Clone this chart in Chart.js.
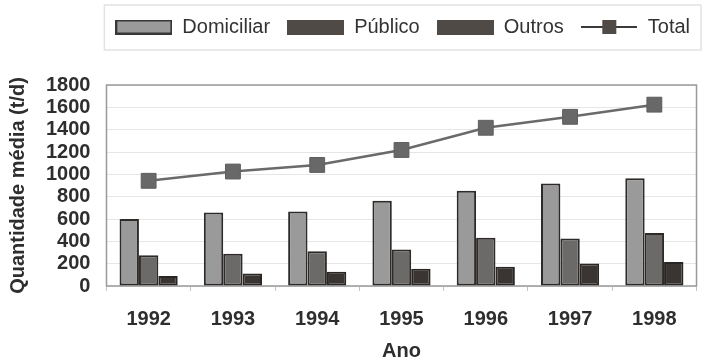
<!DOCTYPE html>
<html>
<head>
<meta charset="utf-8">
<script src="https://cdn.jsdelivr.net/npm/chart.js@4/dist/chart.umd.min.js"></script>
<style>
  html, body { margin: 0; padding: 0; background: #fff; }
  #wrap { width: 708px; height: 361px; }
</style>
</head>
<body>
<div id="wrap"><canvas id="myChart" width="708" height="361"></canvas></div>
<script>
// data
var anos = ["1992", "1993", "1994", "1995", "1996", "1997", "1998"];
var domiciliar = [600, 659, 668, 764, 853, 918, 965];
var publico = [276, 288, 312, 327, 431, 425, 475];
var outros = [89, 113, 128, 154, 172, 202, 214];
var total = [942, 1025, 1084, 1218, 1417, 1515, 1624];

var fontFam = "'Liberation Sans', Arial, sans-serif";

// little legend swatches
function swatch(fill, stroke) {
  var c = document.createElement('canvas');
  c.width = 57; c.height = 15;
  var g = c.getContext('2d');
  g.fillStyle = fill;
  g.fillRect(1, 1, 55, 13);
  g.strokeStyle = stroke;
  g.lineWidth = 2;
  g.strokeRect(1, 1, 55, 13);
  return c;
}

function lineSwatch() {
  var c = document.createElement('canvas');
  c.width = 56; c.height = 16;
  var g = c.getContext('2d');
  g.strokeStyle = '#3a3a3a';
  g.lineWidth = 2;
  g.beginPath();
  g.moveTo(0, 8);
  g.lineTo(56, 8);
  g.stroke();
  g.fillStyle = '#4f4a46';
  g.fillRect(21, 1, 14, 14);
  return c;
}

var legendIcons = [
  swatch('#9a9a9a', '#3a3836'),
  swatch('#4f4a46', '#4f4a46'),
  swatch('#4f4a46', '#4f4a46'),
  lineSwatch()
];

// more room under the legend
var legendGap = {
  id: 'legendGap',
  afterInit: function (chart) {
    var lg = chart.legend;
    if (!lg) return;
    var origFit = lg.fit;
    lg.fit = function () {
      origFit.apply(this, arguments);
      this.height += 38;
    };
  }
};

// frame round the plot and round the legend
var frames = {
  id: 'frames',
  beforeDatasetsDraw: function (chart) {
    var a = chart.chartArea;
    var ctx = chart.ctx;
    ctx.save();
    ctx.strokeStyle = '#999';
    ctx.lineWidth = 1.5;
    ctx.strokeRect(a.left, a.top, a.right - a.left, a.bottom - a.top);
    ctx.restore();
  },
  afterDraw: function (chart) {
    var boxes = chart.legend.legendHitBoxes;
    if (!boxes || !boxes.length) return;
    var first = boxes[0], last = boxes[boxes.length - 1];
    var ctx = chart.ctx;
    ctx.save();
    ctx.strokeStyle = '#e2e2e2';
    ctx.lineWidth = 1.5;
    ctx.strokeRect(first.left - 11, first.top - 12, last.left + last.width - first.left + 22, first.height + 25);
    ctx.restore();
  }
};

var ctx = document.getElementById('myChart').getContext('2d');
var myChart = new Chart(ctx, {
  type: 'bar',
  data: {
    labels: anos,
    datasets: [
      {
        label: 'Domiciliar',
        data: domiciliar,
        backgroundColor: '#9a9a9a',
        borderColor: '#2e2a28',
        borderWidth: 2,
        borderSkipped: false,
        categoryPercentage: 0.69,
        barPercentage: 1.0,
        order: 2
      },
      {
        label: 'Público',
        data: publico,
        backgroundColor: '#6b6a68',
        borderColor: '#2e2a28',
        borderWidth: 2,
        borderSkipped: false,
        categoryPercentage: 0.69,
        barPercentage: 1.0,
        order: 2
      },
      {
        label: 'Outros',
        data: outros,
        backgroundColor: '#3a3532',
        borderColor: '#2a2624',
        borderWidth: 2,
        borderSkipped: false,
        categoryPercentage: 0.69,
        barPercentage: 1.0,
        order: 2
      },
      {
        type: 'line',
        label: 'Total',
        data: total,
        borderColor: '#6a6a6a',
        borderWidth: 2.5,
        pointStyle: 'rect',
        pointRadius: 10.5,
        pointBackgroundColor: '#686868',
        pointBorderColor: '#5e5e5e',
        pointBorderWidth: 1,
        tension: 0,
        order: 1
      }
    ]
  },
  options: {
    responsive: false,
    animation: false,
    devicePixelRatio: 1,
    layout: { padding: { top: 0, left: 6, right: 1, bottom: 0 } },
    plugins: {
      tooltip: { enabled: false },
      legend: {
        position: 'top',
        align: 'end',
        labels: {
          usePointStyle: true,
          pointStyleWidth: 57,
          boxHeight: 20,
          padding: 17,
          color: '#333',
          font: { family: fontFam, size: 20 },
          generateLabels: function (chart) {
            return chart.data.datasets.map(function (ds, i) {
              return {
                text: ds.label,
                pointStyle: legendIcons[i],
                fillStyle: '#000',
                strokeStyle: '#000',
                lineWidth: 0,
                hidden: false,
                datasetIndex: i,
                fontColor: '#333'
              };
            });
          }
        }
      }
    },
    scales: {
      x: {
        offset: true,
        grid: {
          display: true,
          drawOnChartArea: false,
          offset: true,
          tickLength: 5,
          color: '#c4c4c4'
        },
        border: { display: false },
        ticks: {
          color: '#2e2e2e',
          padding: 16,
          font: { family: fontFam, size: 20, weight: 'bold' }
        },
        title: {
          display: true,
          text: 'Ano',
          color: '#2e2e2e',
          padding: { top: -6, bottom: 0 },
          font: { family: fontFam, size: 20, weight: 'bold', lineHeight: 1 }
        }
      },
      y: {
        min: 0,
        max: 1800,
        ticks: {
          stepSize: 200,
          autoSkip: false,
          color: '#2e2e2e',
          padding: 16,
          font: { family: fontFam, size: 20, weight: 'bold', lineHeight: 1 },
          callback: function (v) { return String(v); }
        },
        grid: {
          color: '#e6e6e6',
          drawTicks: false
        },
        border: { display: false },
        title: {
          display: true,
          text: 'Quantidade média (t/d)',
          color: '#2e2e2e',
          padding: { top: 0, bottom: 0 },
          font: { family: fontFam, size: 20, weight: 'bold' }
        }
      }
    }
  },
  plugins: [legendGap, frames]
});
</script>
</body>
</html>
